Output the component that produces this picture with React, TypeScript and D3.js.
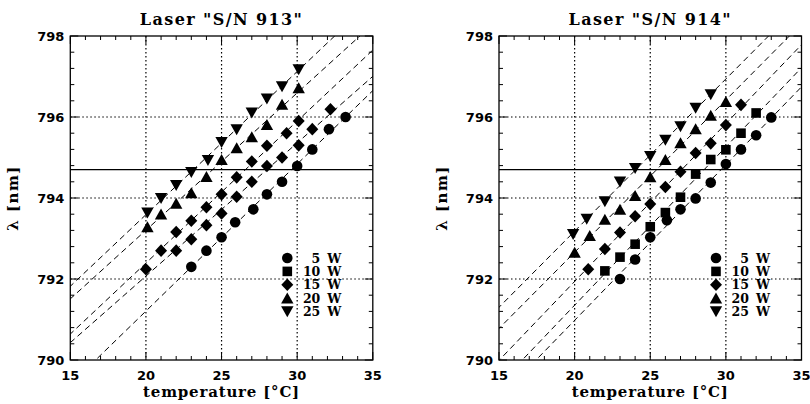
import React from 'react';
import * as d3 from 'd3';

// measured points, [temperature in °C, wavelength in nm]
// Laser S/N 913 (no 10 W points, two diamond series)
const sn913_5W: [number, number][] = [[23, 792.30], [24, 792.70], [25, 793.03], [25.9, 793.40], [27.1, 793.72], [28, 794.09], [29, 794.40], [30, 794.79], [31, 795.20], [32.1, 795.70], [33.2, 796.00]];
const sn913_15Wa: [number, number][] = [[20, 792.24], [22, 792.70], [23, 792.98], [24, 793.33], [25, 793.62], [26, 794.03], [27, 794.40], [28, 794.79], [29, 795.00], [30.1, 795.30], [31, 795.70], [32.2, 796.19]];
const sn913_15Wb: [number, number][] = [[21, 792.70], [22, 793.16], [23, 793.44], [24, 793.77], [25, 794.09], [26, 794.51], [27, 794.90], [28, 795.29], [29.3, 795.60], [30.1, 795.90]];
const sn913_20W: [number, number][] = [[20.1, 793.29], [21, 793.60], [22, 793.87], [23, 794.13], [24, 794.53], [25, 794.95], [26, 795.24], [27, 795.51], [28, 795.81], [29, 796.31], [30.1, 796.72]];
const sn913_25W: [number, number][] = [[20.1, 793.63], [21, 793.99], [22, 794.31], [23, 794.63], [24.1, 794.93], [25, 795.37], [26, 795.69], [27, 796.10], [28, 796.45], [29, 796.75], [30.1, 797.17]];

// Laser S/N 914
const sn914_5W: [number, number][] = [[23, 792.00], [24, 792.48], [25, 793.03], [26.1, 793.45], [27, 793.72], [28, 793.99], [29, 794.38], [30, 794.84], [31, 795.20], [32, 795.55], [33, 795.99]];
const sn914_10W: [number, number][] = [[22, 792.20], [23, 792.54], [24, 792.86], [25, 793.29], [26, 793.64], [27, 794.02], [28, 794.59], [29, 794.95], [30, 795.19], [31, 795.60], [32, 796.10]];
const sn914_15W: [number, number][] = [[20.9, 792.24], [22, 792.74], [23, 793.15], [24, 793.55], [25, 793.85], [26, 794.27], [27, 794.65], [28, 795.11], [29, 795.35], [30, 795.80], [31, 796.30]];
const sn914_20W: [number, number][] = [[20, 792.66], [21, 793.07], [22, 793.47], [23, 793.72], [24, 794.06], [25, 794.52], [26, 794.95], [27, 795.36], [28, 795.71], [29, 796.04], [30, 796.38]];
const sn914_25W: [number, number][] = [[19.9, 793.10], [20.8, 793.48], [22, 793.91], [23, 794.40], [24, 794.73], [25, 795.03], [26, 795.43], [27, 795.76], [28, 796.22], [29, 796.55]];

const xMajor = [15, 20, 25, 30, 35];
const yMajor = [790, 792, 794, 796, 798];
const refLambda = 794.7;
const legendLabels = ['5', '10', '15', '20', '25'];
const legendShapes = ['circle', 'square', 'diamond', 'up', 'down'];

const panels = [
  {
    title: 'Laser "S/N 913"',
    left: 70.3,
    series: [
      { shape: 'circle', pts: sn913_5W },
      { shape: 'diamond', pts: sn913_15Wa },
      { shape: 'diamond', pts: sn913_15Wb },
      { shape: 'up', pts: sn913_20W },
      { shape: 'down', pts: sn913_25W },
    ],
  },
  {
    title: 'Laser "S/N 914"',
    left: 499,
    series: [
      { shape: 'circle', pts: sn914_5W },
      { shape: 'square', pts: sn914_10W },
      { shape: 'diamond', pts: sn914_15W },
      { shape: 'up', pts: sn914_20W },
      { shape: 'down', pts: sn914_25W },
    ],
  },
];

const plotW = 302.5;
const top = 36;
const bottom = 360;
const serif = '"DejaVu Serif", serif';
const sans = '"DejaVu Sans", sans-serif';

// least squares line through one series
function fit(pts: [number, number][]) {
  const mx = d3.mean(pts, p => p[0])!;
  const my = d3.mean(pts, p => p[1])!;
  const sxy = d3.sum(pts, p => (p[0] - mx) * (p[1] - my));
  const sxx = d3.sum(pts, p => (p[0] - mx) ** 2);
  const b = sxy / sxx;
  return (t: number) => my + b * (t - mx);
}

function Marker({ shape, x, y }: { shape: string; x: number; y: number }) {
  if (shape === 'circle') return <circle cx={x} cy={y} r={5.3} fill="#000" />;
  let d = '';
  if (shape === 'square') d = 'M-4.8,-4.8h9.6v9.6h-9.6Z';
  if (shape === 'diamond') d = 'M0,-6.3L6,0L0,6.3L-6,0Z';
  if (shape === 'up') d = 'M0,-5.6L6.2,5.4L-6.2,5.4Z';
  if (shape === 'down') d = 'M0,5.6L6.2,-5.4L-6.2,-5.4Z';
  return <path d={d} transform={`translate(${x},${y})`} fill="#000" />;
}

function Panel({ p, idx }: { p: (typeof panels)[number]; idx: number }) {
  const x = d3.scaleLinear().domain([15, 35]).range([p.left, p.left + plotW]);
  const y = d3.scaleLinear().domain([790, 798]).range([bottom, top]);
  const xMinor = d3.range(15, 35.01, 1);
  const yMinor = d3.range(790, 798.01, 0.4);
  const clipId = `clip${idx}`;
  const line = d3.line<number>();
  const x0 = p.left, x1 = p.left + plotW;

  return (
    <g>
      <defs>
        <clipPath id={clipId}>
          <rect x={x0} y={top} width={plotW} height={bottom - top} />
        </clipPath>
      </defs>
      <text x={(x0 + x1) / 2} y={25} textAnchor="middle" fontFamily={serif} fontWeight="bold" fontSize={16} letterSpacing={1.4}>
        {p.title}
      </text>

      {/* dotted grid */}
      {xMajor.slice(1, -1).map(t => (
        <line key={'gx' + t} x1={x(t)} x2={x(t)} y1={top} y2={bottom} stroke="#000" strokeWidth={1.2} strokeDasharray="1.5 2.5" />
      ))}
      {yMajor.slice(1, -1).map(v => (
        <line key={'gy' + v} x1={x0} x2={x1} y1={y(v)} y2={y(v)} stroke="#000" strokeWidth={1.2} strokeDasharray="1.5 2.5" />
      ))}

      {/* reference wavelength */}
      <line x1={x0} x2={x1} y1={y(refLambda)} y2={y(refLambda)} stroke="#000" strokeWidth={1.1} />

      {/* fitted dashed lines */}
      <g clipPath={`url(#${clipId})`}>
        {p.series.map((s, i) => {
          const f = fit(s.pts);
          const d = line([[x(13), y(f(13))], [x(37), y(f(37))]] as any);
          return <path key={'f' + i} d={d!} fill="none" stroke="#000" strokeWidth={1} strokeDasharray="6 4" />;
        })}
      </g>

      {/* ticks on all four sides */}
      {xMinor.map(t => {
        const len = xMajor.includes(t) ? 8 : 4;
        return (
          <g key={'tx' + t}>
            <line x1={x(t)} x2={x(t)} y1={bottom} y2={bottom - len} stroke="#000" />
            <line x1={x(t)} x2={x(t)} y1={top} y2={top + len} stroke="#000" />
          </g>
        );
      })}
      {yMinor.map(v => {
        const major = yMajor.some(m => Math.abs(m - v) < 1e-6);
        const len = major ? 8 : 4;
        return (
          <g key={'ty' + v.toFixed(1)}>
            <line x1={x0} x2={x0 + len} y1={y(v)} y2={y(v)} stroke="#000" />
            <line x1={x1} x2={x1 - len} y1={y(v)} y2={y(v)} stroke="#000" />
          </g>
        );
      })}
      <rect x={x0} y={top} width={plotW} height={bottom - top} fill="none" stroke="#000" strokeWidth={1.3} />

      {xMajor.map(t => (
        <text key={'lx' + t} x={x(t)} y={380} textAnchor="middle" fontFamily={sans} fontWeight="bold" fontSize={13}>
          {t}
        </text>
      ))}
      {yMajor.map(v => (
        <text key={'ly' + v} x={x0 - 6} y={y(v) + 5} textAnchor="end" fontFamily={sans} fontWeight="bold" fontSize={13}>
          {v}
        </text>
      ))}
      <text x={(x0 + x1) / 2} y={397} textAnchor="middle" fontFamily={serif} fontWeight="bold" fontSize={15} letterSpacing={0.8}>
        temperature [°C]
      </text>
      <text transform={`translate(${x0 - 52},${(top + bottom) / 2}) rotate(-90)`} textAnchor="middle" fontFamily={serif} fontWeight="bold" fontSize={15} letterSpacing={1.5}>
        λ [nm]
      </text>

      {/* data */}
      {p.series.map((s, i) =>
        s.pts.map((pt, j) => <Marker key={`m${i}-${j}`} shape={s.shape} x={x(pt[0])} y={y(pt[1])} />)
      )}

      {/* legend */}
      {legendLabels.map((lab, i) => {
        const ly = 258 + i * 13.4;
        return (
          <g key={'lg' + lab}>
            <Marker shape={legendShapes[i]} x={x0 + 217} y={ly} />
            <text x={x0 + 250} y={ly + 4.5} textAnchor="end" fontFamily={serif} fontWeight="bold" fontSize={12.5}>
              {lab}
            </text>
            <text x={x0 + 257} y={ly + 4.5} fontFamily={serif} fontWeight="bold" fontSize={12.5}>
              W
            </text>
          </g>
        );
      })}
    </g>
  );
}

export default function App() {
  return (
    <svg width={810} height={404} style={{ position: 'absolute', left: 0, top: 0, background: '#fff' }}>
      {panels.map((p, i) => (
        <Panel key={i} p={p} idx={i} />
      ))}
    </svg>
  );
}
